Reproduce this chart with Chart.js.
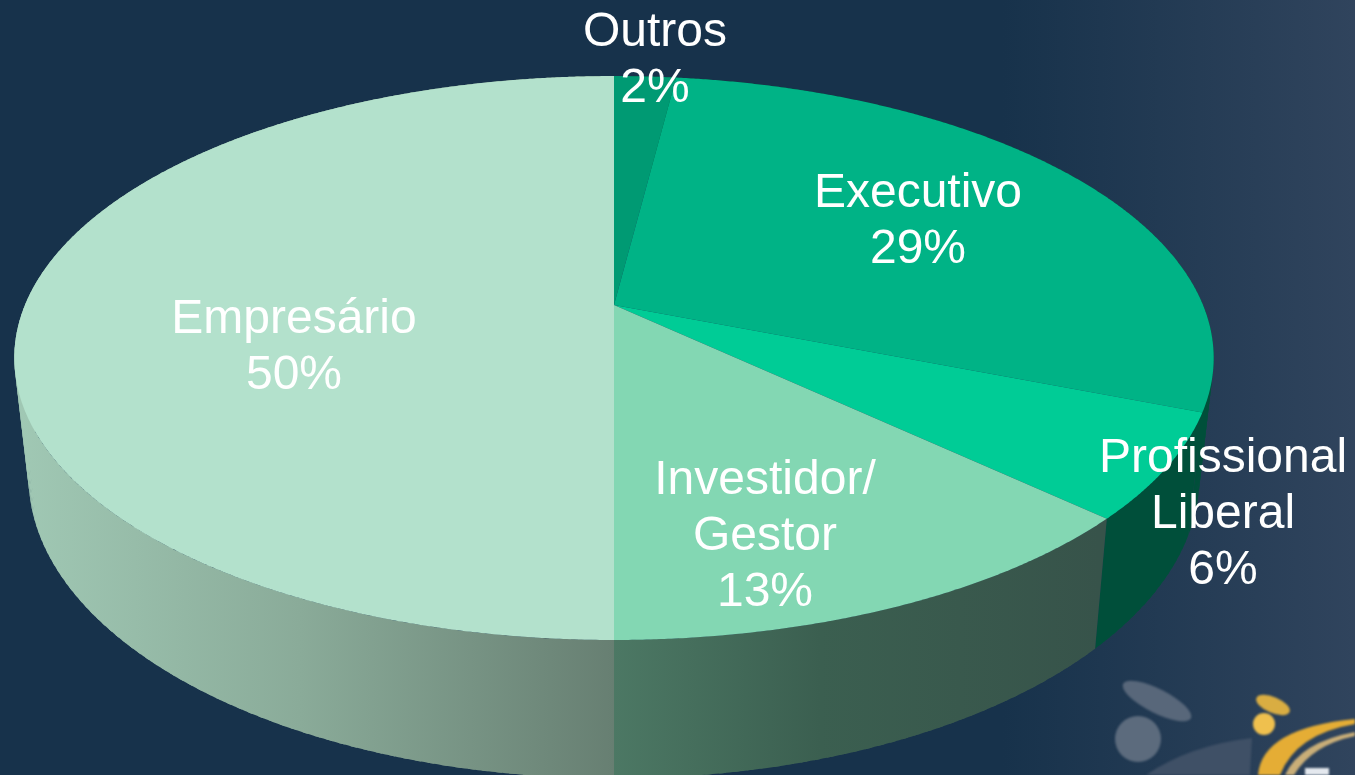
<!DOCTYPE html>
<html>
<head>
<meta charset="utf-8">
<title>Perfil</title>
<script src="https://cdn.jsdelivr.net/npm/chart.js@4"></script>
<style>
  html, body { margin: 0; padding: 0; background: #17324b; overflow: hidden; }
  canvas { display: block; }
</style>
</head>
<body>
<canvas id="pieChart" width="1355" height="775"></canvas>
<script>
// clockwise from 12 o'clock
const categories = [['Outros'], ['Executivo'], ['Profissional', 'Liberal'], ['Investidor/', 'Gestor'], ['Empresário']];
const shares = [2, 29, 6, 13, 50];

const topColors = ['#009a73', '#00b386', '#00cc96', '#83d7b3', '#b3e1cc'];
// wall shading per slice, [x, colour] stops
const wallStops = [
  [[0, '#004f3a']],
  [[0, '#004f3a']],
  [[0, '#004f3a']],
  [[614, '#4c7864'], [820, '#3b5f50'], [1100, '#37534a']],
  [[20, '#a0c8b4'], [300, '#8aab99'], [614, '#677f72']]
];
// centre x and first baseline of each label
const labelPos = [[655, 46], [918, 207], [1223, 472], [765, 494], [294, 333]];
const lineHeight = 56;

// tilted disc with perspective: rim point from the angle clockwise from top
const topRim = { x: 614, y: 305, a: 589, b: 272, k: 0.188 };
const lowRim = { x: 614, y: 420, a: 575, b: 291, k: 0.188 };

function project(rim, theta) {
  const u = Math.sin(theta), v = -Math.cos(theta);
  const w = 1 - rim.k * v;
  return [rim.x + rim.a * u / w, rim.y + rim.b * v / w];
}

function tracePart(ctx, rim, from, to) {
  const steps = Math.max(2, Math.ceil(Math.abs(to - from) / 0.005));
  for (let i = 0; i <= steps; i++) {
    const p = project(rim, from + (to - from) * i / steps);
    ctx.lineTo(p[0], p[1]);
  }
}

function drawBackground(ctx, w, h) {
  const bg = ctx.createLinearGradient(0, 0, w, 0);
  bg.addColorStop(0, '#17324b');
  bg.addColorStop(0.74, '#17324b');
  bg.addColorStop(1, '#30445d');
  ctx.fillStyle = bg;
  ctx.fillRect(0, 0, w, h);
}

function blob(ctx, color, x, y, rx, ry, rot) {
  ctx.fillStyle = color;
  ctx.beginPath();
  ctx.ellipse(x, y, rx, ry, rot, 0, Math.PI * 2);
  ctx.fill();
}

// logo in the corner of the slide
function drawLogo(ctx) {
  ctx.save();
  ctx.filter = 'blur(0.8px)';
  blob(ctx, '#58677a', 1157, 701, 38, 12, 0.47);
  blob(ctx, '#5c6b7d', 1138, 739, 23, 23, 0);
  ctx.fillStyle = '#3f5066';
  ctx.beginPath();
  ctx.moveTo(1146, 775);
  ctx.quadraticCurveTo(1190, 745, 1252, 738);
  ctx.lineTo(1250, 775);
  ctx.closePath();
  ctx.fill();
  blob(ctx, '#d9ad42', 1273, 705, 18, 8, 0.4);
  blob(ctx, '#efc04e', 1264, 724, 11, 11, 0);
  ctx.fillStyle = '#e5ad35';
  ctx.beginPath();
  ctx.moveTo(1258, 775);
  ctx.quadraticCurveTo(1262, 728, 1355, 719);
  ctx.lineTo(1355, 724);
  ctx.quadraticCurveTo(1296, 734, 1280, 775);
  ctx.closePath();
  ctx.fill();
  ctx.fillStyle = '#c9ae78';
  ctx.beginPath();
  ctx.moveTo(1285, 775);
  ctx.quadraticCurveTo(1300, 742, 1355, 732);
  ctx.lineTo(1355, 736);
  ctx.quadraticCurveTo(1312, 745, 1294, 775);
  ctx.closePath();
  ctx.fill();
  ctx.fillStyle = '#e4e8ee';
  ctx.fillRect(1305, 768, 24, 7);
  ctx.restore();
}

const perspectivePie = {
  id: 'perspectivePie',
  beforeDatasetsDraw(chart) {
    const ctx = chart.ctx;
    const arcs = chart.getDatasetMeta(0).data;
    drawBackground(ctx, chart.width, chart.height);
    drawLogo(ctx);

    // walls first as thin ruled strips, the top faces cover whatever is behind
    arcs.forEach((arc, i) => {
      const from = arc.startAngle + Math.PI / 2;
      const to = arc.endAngle + Math.PI / 2;
      const stops = wallStops[i];
      const x0 = stops[0][0];
      const span = stops[stops.length - 1][0] + 1 - x0;
      const grad = ctx.createLinearGradient(x0, 0, x0 + span, 0);
      stops.forEach(s => grad.addColorStop((s[0] - x0) / span, s[1]));
      ctx.fillStyle = grad;
      const steps = Math.ceil((to - from) / 0.02);
      for (let s = 0; s < steps; s++) {
        const a = from + (to - from) * s / steps;
        const b = Math.min(to, a + (to - from) / steps * 1.5);
        ctx.beginPath();
        tracePart(ctx, topRim, a, b);
        tracePart(ctx, lowRim, b, a);
        ctx.closePath();
        ctx.fill();
      }
    });

    arcs.forEach(arc => {
      ctx.beginPath();
      ctx.moveTo(topRim.x, topRim.y);
      tracePart(ctx, topRim, arc.startAngle + Math.PI / 2, arc.endAngle + Math.PI / 2);
      ctx.closePath();
      ctx.fillStyle = arc.options.backgroundColor;
      ctx.fill();
    });

    ctx.fillStyle = '#ffffff';
    ctx.font = '48px "Liberation Sans", Arial, sans-serif';
    ctx.textAlign = 'center';
    ctx.textBaseline = 'alphabetic';
    categories.forEach((lines, i) => {
      const rows = lines.concat(shares[i] + '%');
      rows.forEach((row, r) => ctx.fillText(row, labelPos[i][0], labelPos[i][1] + r * lineHeight));
    });
    return false;
  }
};

new Chart(document.getElementById('pieChart').getContext('2d'), {
  type: 'pie',
  data: {
    labels: categories,
    datasets: [{ data: shares, backgroundColor: topColors, borderWidth: 0 }]
  },
  options: {
    responsive: false,
    animation: false,
    plugins: { legend: { display: false }, tooltip: { enabled: false } }
  },
  plugins: [perspectivePie]
});
</script>
</body>
</html>
